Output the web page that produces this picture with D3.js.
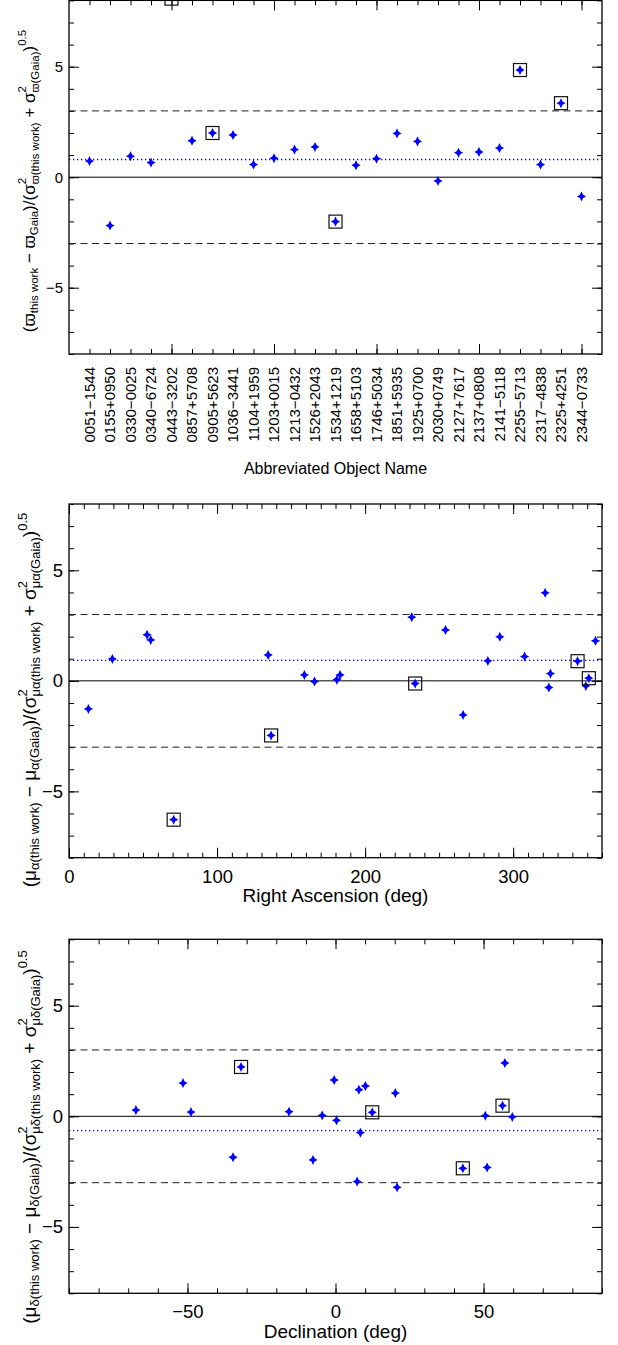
<!DOCTYPE html>
<html><head><meta charset="utf-8">
<script src="https://cdn.jsdelivr.net/npm/d3@7"></script>
<style>
html,body{margin:0;padding:0;background:#fff;}
svg text{font-family:"Liberation Sans",Arial,Helvetica,sans-serif;white-space:pre;}
</style></head>
<body>
<svg id="c" width="618" height="1345"></svg>
<script>
// ---------- data ----------
const names = ["0051−1544","0155+0950","0330−0025","0340−6724","0443−3202","0857+5708","0905+5623",
  "1036−3441","1104+1959","1203+0015","1213−0432","1526+2043","1534+1219","1658+5103","1746+5034",
  "1851+5935","1925+0700","2030+0749","2127+7617","2137+0808","2141−5118","2255−5713","2317−4838",
  "2325+4251","2344−0733"];
const parallaxNorm = [0.73,-2.19,0.95,0.66,8.08,1.65,2.00,1.91,0.57,0.86,1.25,1.37,-2.01,0.54,0.84,
  1.98,1.62,-0.17,1.11,1.14,1.32,4.85,0.57,3.35,-0.87];
const raDeg = [13.1,29.3,52.7,55.2,70.7,134.5,136.5,159.0,165.8,180.9,183.1,231.5,233.8,254.3,266.2,
  282.9,291.0,307.7,321.6,324.1,325.2,343.5,349.1,351.1,355.6];
const pmRaNorm = [-1.27,0.99,2.08,1.85,-6.28,1.17,-2.47,0.27,-0.03,0.05,0.27,2.88,-0.12,2.30,-1.54,
  0.90,1.99,1.10,3.98,-0.30,0.33,0.89,-0.23,0.12,1.81];
const decDeg = [-15.7,10.1,-0.45,-67.4,-31.9,57.2,56.4,-34.6,20.2,0.34,-4.5,20.8,12.4,51.2,50.6,
  59.7,7.3,7.9,76.3,8.4,-51.5,-57.2,-48.8,43.0,-7.6];
const pmDecNorm = [0.21,1.37,1.64,0.28,2.23,2.41,0.48,-1.85,1.05,-0.18,0.04,-3.21,0.18,-2.31,0.03,
  -0.03,-2.95,1.20,null,-0.74,1.50,null,0.19,-2.35,-1.97];
const flagged = ["0443−3202","0905+5623","1534+1219","2255−5713","2325+4251"];
const meanParallax = 0.80, meanPmRa = 0.93, meanPmDec = -0.65;
const limitLines = [-3, 3];
const yDomain = [-8, 8];
const yMajorTicks = [-5, 0, 5];
const raMajorTicks = [0, 100, 200, 300];
const decMajorTicks = [-50, 0, 50];
const xTitles = ["Abbreviated Object Name", "Right Ascension (deg)", "Declination (deg)"];

// ---------- drawing ----------
const svg = d3.select("#c");
svg.append("rect").attr("width",618).attr("height",1345).attr("fill","#fff");

const L = 69, R = 602;
const starPath = (() => { const rx=4.6, ry=5.0, a=1.65;
  return `M0,${-ry}L${a},${-a}L${rx},0L${a},${a}L0,${ry}L${-a},${a}L${-rx},0L${-a},${-a}Z`; })();

function panel(cfg){
  const x = d3.scaleLinear().domain(cfg.xDomain).range([L,R]);
  const y = d3.scaleLinear().domain(yDomain).range([cfg.bottom, cfg.top]);
  const g = svg.append("g");
  const yMinor = d3.range(-8, 9, 1);
  const fs = cfg.tickFont;
  const styleAxis = (sel) => { sel.select(".domain").remove(); sel.selectAll("line").attr("stroke","#000").attr("stroke-width",1);
    sel.selectAll("text").attr("fill","#000").attr("font-size",fs).attr("font-family","Liberation Sans, Arial, sans-serif"); };
  // y axes
  g.append("g").attr("transform",`translate(${L},0)`).call(d3.axisLeft(y).tickValues(yMinor).tickSize(-5).tickFormat("")).call(styleAxis);
  g.append("g").attr("transform",`translate(${L},0)`).call(d3.axisLeft(y).tickValues(yMajorTicks).tickSize(-10).tickPadding(6).tickFormat(d3.format("d"))).call(styleAxis);
  g.append("g").attr("transform",`translate(${R},0)`).call(d3.axisRight(y).tickValues(yMinor).tickSize(-5).tickFormat("")).call(styleAxis);
  g.append("g").attr("transform",`translate(${R},0)`).call(d3.axisRight(y).tickValues(yMajorTicks).tickSize(-10).tickFormat("")).call(styleAxis);
  // x axes
  g.append("g").attr("transform",`translate(0,${cfg.bottom})`).call(d3.axisBottom(x).tickValues(cfg.xMinor).tickSize(-5).tickFormat("")).call(styleAxis);
  g.append("g").attr("transform",`translate(0,${cfg.bottom})`).call(d3.axisBottom(x).tickValues(cfg.xMajor).tickSize(-10).tickPadding(cfg.xPad).tickFormat(cfg.xLabels ? d3.format("d") : "")).call(styleAxis);
  g.append("g").attr("transform",`translate(0,${cfg.top})`).call(d3.axisTop(x).tickValues(cfg.xMinor).tickSize(-5).tickFormat("")).call(styleAxis);
  g.append("g").attr("transform",`translate(0,${cfg.top})`).call(d3.axisTop(x).tickValues(cfg.xMajor).tickSize(-10).tickFormat("")).call(styleAxis);
  // reference lines
  g.append("line").attr("x1",L).attr("x2",R).attr("y1",y(0)).attr("y2",y(0)).attr("stroke","#000").attr("stroke-width",1);
  limitLines.forEach(v => g.append("line").attr("x1",L).attr("x2",R).attr("y1",y(v)).attr("y2",y(v))
    .attr("stroke","#222").attr("stroke-width",1).attr("stroke-dasharray","7,4.5"));
  g.append("line").attr("x1",L).attr("x2",R).attr("y1",y(cfg.mean)).attr("y2",y(cfg.mean))
    .attr("stroke","#0000ff").attr("stroke-width",1.3).attr("stroke-dasharray","1.3,2.7");
  // frame
  g.append("rect").attr("x",L).attr("y",cfg.top).attr("width",R-L).attr("height",cfg.bottom-cfg.top)
    .attr("fill","none").attr("stroke","#000").attr("stroke-width",1.3);
  // points
  const pts = names.map((n,i)=>({n, xv: cfg.xs[i], yv: cfg.ys[i]})).filter(d => d.yv !== null && d.xv !== null);
  g.selectAll("path.star").data(pts.filter(d => d.yv >= yDomain[0] && d.yv <= yDomain[1] && d.xv>=cfg.xDomain[0] && d.xv<=cfg.xDomain[1]))
    .join("path").attr("class","star").attr("d",starPath)
    .attr("transform",d=>`translate(${x(d.xv)},${y(d.yv)})`).attr("fill","#0000ff");
  g.selectAll("rect.box").data(pts.filter(d => flagged.includes(d.n)))
    .join("rect").attr("class","box").attr("x",d=>x(d.xv)-6.5).attr("y",d=>y(d.yv)-6.5)
    .attr("width",13).attr("height",13).attr("fill","none").attr("stroke","#111").attr("stroke-width",1.2);
  return {x,y,g};
}

function richLabel(baseX, cy, segs, M, S){
  const g = svg.append("g").attr("transform",`translate(${baseX},${cy}) rotate(-90)`);
  let cur = 0;
  segs.forEach(s => {
    if (s.stack){
      let w = 0;
      s.stack.forEach(p => { const t = g.append("text").attr("x",cur).attr("y",p.dy).attr("font-size",S).text(p.t);
        w = Math.max(w, t.node().getComputedTextLength()); });
      cur += w;
    } else {
      const t = g.append("text").attr("x",cur).attr("y",s.dy||0).attr("font-size",s.small?S:M).text(s.t);
      cur += t.node().getComputedTextLength();
    }
  });
  g.selectAll("text").attr("x", function(){ return +this.getAttribute("x") - cur/2; }).attr("fill","#000");
}

const idx = names.map((d,i)=>i+1);
// Panel 1
const p1 = panel({top:0.4,bottom:354,xDomain:[0,26],xs:idx,ys:parallaxNorm,mean:meanParallax,
  xMinor:d3.range(1,26),xMajor:[5,10,15,20,25],xLabels:false,xPad:0,tickFont:15});
p1.g.selectAll("text.cat").data(names).join("text").attr("class","cat")
  .attr("transform",(d,i)=>`translate(${p1.x(i+1)},367) rotate(-90)`)
  .attr("text-anchor","end").attr("dy","0.36em").attr("font-size",15).attr("fill","#000").text(d=>d);
svg.append("text").attr("x",335.5).attr("y",474).attr("text-anchor","middle").attr("font-size",16).text(xTitles[0]);

// Panel 2
panel({top:504,bottom:857.7,xDomain:[0,360],xs:raDeg,ys:pmRaNorm,mean:meanPmRa,
  xMinor:d3.range(0,361,10),xMajor:raMajorTicks,xLabels:true,xPad:12,tickFont:18.5});
svg.append("text").attr("x",335.5).attr("y",901.5).attr("text-anchor","middle").attr("font-size",19).text(xTitles[1]);

// Panel 3
panel({top:939.3,bottom:1293.3,xDomain:[-90,90],xs:decDeg,ys:pmDecNorm,mean:meanPmDec,
  xMinor:d3.range(-90,91,10),xMajor:decMajorTicks,xLabels:true,xPad:11.5,tickFont:18.5});
svg.append("text").attr("x",335.5).attr("y",1338).attr("text-anchor","middle").attr("font-size",19).text(xTitles[2]);

// y-axis titles
function segsFor(sym, sub1, sub2, ssym){
  return [
    {t:"("},{t:sym},{t:sub1,small:true,dy:3},{t:" − "},{t:sym},{t:sub2,small:true,dy:3},{t:")/("},{t:"σ"},
    {stack:[{t:"2",dy:-9},{t:ssym+"(this work)",dy:4}]},{t:" + "},{t:"σ"},
    {stack:[{t:"2",dy:-9},{t:ssym+"(Gaia)",dy:4}]},{t:")"},{t:"0.5",small:true,dy:-9}
  ];
}
richLabel(35, 181, segsFor("ϖ","this work","Gaia","ϖ"), 17, 11.5);
richLabel(36, 700, segsFor("μ","α(this work)","α(Gaia)","μα"), 19, 13);
richLabel(36, 1137, segsFor("μ","δ(this work)","δ(Gaia)","μδ"), 19, 13);
</script>
</body></html>
